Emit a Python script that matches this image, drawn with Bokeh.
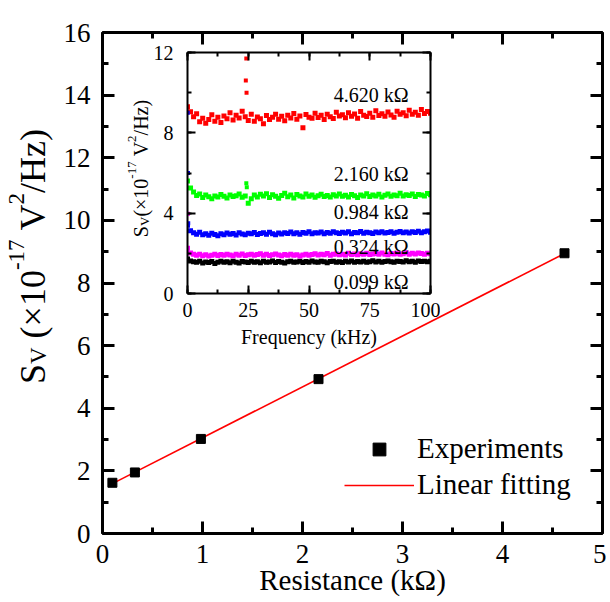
import numpy as np
from bokeh.plotting import figure
from bokeh.models import (LinearAxis, SingleIntervalTicker, Label, Legend, LegendItem, Range1d,
                          CustomLabelingPolicy)
from bokeh.embed import file_html
from bokeh.resources import INLINE

FONT = "Liberation Serif"

# ---------------- main chart data ----------------
resistance = [0.099, 0.324, 0.984, 2.160, 4.620]      # kOhm
sv_mean = [1.62, 1.95, 3.02, 4.93, 8.95]              # x1e-17 V^2/Hz

# ---------------- inset data (noise spectra) ----------------
red_sv = [
    9.30, 9.05, 8.80, 8.95, 8.55, 8.72, 8.48, 8.66, 8.90, 8.58,
    8.78, 8.52, 8.84, 8.70, 9.00, 8.64, 8.88, 8.74, 9.08, 8.80,
    8.62, 8.93, 8.58, 8.79, 8.70, 8.45, 8.86, 8.66, 8.77, 8.92,
    8.68, 8.82, 8.60, 8.88, 8.74, 8.96, 8.68, 8.84, 8.25, 8.91,
    8.78, 8.72, 8.98, 8.76, 8.87, 8.66, 8.93, 8.80, 8.71, 9.03,
    8.84, 8.90, 8.75, 9.00, 8.82, 8.94, 8.73, 9.06, 8.88, 8.81,
    8.98, 8.77, 9.10, 8.86, 8.95, 8.83, 9.04, 8.89, 8.78, 9.08,
    8.93, 9.00, 8.85, 9.13, 8.92, 9.03, 8.88, 9.16, 8.96, 9.06,
    8.98]
green_sv = [
    5.60, 5.25, 5.05, 4.88, 4.95, 4.78, 4.90, 4.82, 4.72, 4.86,
    4.80, 4.93, 4.84, 4.76, 4.91, 4.83, 4.87, 4.95, 4.79, 4.85,
    4.50, 4.72, 4.90, 4.80, 4.94, 4.86, 4.97, 4.78, 4.92, 4.84,
    4.74, 4.88, 4.99, 4.82, 4.90, 4.76, 4.93, 4.85, 4.80, 4.96,
    4.84, 4.90, 4.79, 4.87, 4.94, 4.83, 4.88, 4.81, 4.92, 4.86,
    4.95, 4.84, 4.89, 4.80, 4.93, 4.87, 4.78, 4.91, 4.85, 4.97,
    4.83, 4.90, 4.86, 4.94, 4.81, 4.89, 4.95, 4.84, 4.91, 4.87,
    4.99, 4.85, 4.92, 4.88, 4.96, 4.83, 4.93, 4.90, 4.86, 4.98,
    4.92]
blue_sv = [
    3.40, 3.12, 3.02, 2.95, 3.05, 2.92, 2.98, 2.90, 3.00, 2.94,
    2.88, 2.97, 2.92, 3.01, 2.95, 2.99, 2.91, 3.03, 2.96, 2.93,
    3.00, 2.97, 3.04, 2.94, 2.99, 3.02, 2.95, 3.05, 2.98, 2.93,
    3.01, 2.96, 3.03, 2.99, 3.06, 2.97, 3.02, 2.95, 3.04, 3.00,
    3.07, 2.98, 3.03, 3.01, 3.06, 2.97, 3.04, 3.00, 3.08, 3.02,
    2.99, 3.05, 3.01, 3.07, 2.98, 3.04, 3.02, 3.09, 3.00, 3.05,
    3.03, 2.99, 3.06, 3.02, 3.08, 3.01, 3.04, 3.07, 3.00, 3.05,
    3.09, 3.03, 3.06, 3.01, 3.08, 3.04, 3.10, 3.02, 3.07, 3.11,
    3.05]
magenta_sv = [
    2.25, 2.02, 1.95, 1.90, 1.96, 1.88, 1.93, 1.87, 1.91, 1.95,
    1.89, 1.94, 1.90, 1.96, 1.92, 1.88, 1.95, 1.91, 1.97, 1.89,
    1.93, 1.96, 1.90, 1.94, 1.98, 1.91, 1.95, 1.89, 1.93, 1.97,
    1.92, 1.88, 1.94, 1.91, 1.96, 1.90, 1.93, 1.87, 1.92, 1.95,
    1.90, 1.94, 1.98, 1.92, 1.96, 1.93, 1.99, 1.91, 1.95, 1.97,
    1.93, 1.96, 1.92, 2.00, 1.94, 1.97, 1.93, 1.98, 1.95, 2.01,
    1.94, 1.97, 1.99, 1.95, 2.02, 1.96, 1.93, 1.99, 1.97, 2.01,
    1.95, 1.98, 2.03, 1.96, 2.00, 1.97, 2.02, 1.99, 1.96, 2.01,
    1.98]
black_sv = [
    1.72, 1.62, 1.58, 1.55, 1.60, 1.52, 1.57, 1.54, 1.59, 1.50,
    1.56, 1.61, 1.55, 1.58, 1.53, 1.60, 1.56, 1.52, 1.59, 1.57,
    1.54, 1.61, 1.56, 1.58, 1.53, 1.60, 1.55, 1.57, 1.62, 1.54,
    1.59, 1.56, 1.52, 1.58, 1.61, 1.55, 1.57, 1.60, 1.54, 1.59,
    1.56, 1.62, 1.57, 1.55, 1.60, 1.58, 1.53, 1.59, 1.61, 1.56,
    1.58, 1.54, 1.60, 1.57, 1.62, 1.55, 1.59, 1.57, 1.61, 1.56,
    1.58, 1.63, 1.57, 1.60, 1.55, 1.59, 1.62, 1.58, 1.56, 1.61,
    1.59, 1.57, 1.63, 1.58, 1.60, 1.56, 1.62, 1.59, 1.61, 1.58,
    1.60]

# isolated spikes (frequency kHz, value)
red_spike_f = [24.2, 24.0, 24.3]
red_spike_v = [11.7, 10.6, 10.0]
green_spike_f = [24.2, 24.4]
green_spike_v = [5.49, 5.29]
blue_spike_f = [0.2, 0.3, 0.1]
blue_spike_v = [6.0, 3.5, 9.0]
magenta_spike_f = [0.2]
magenta_spike_v = [3.97]

inset_labels = ["4.620 kΩ", "2.160 kΩ", "0.984 kΩ", "0.324 kΩ", "0.099 kΩ"]

# ---------------- helpers ----------------
EM = {' ': .25, '(': .333, ')': .333, '×': .564, '-': .333, '/': .278,
      'S': .556, 'V': .722, 'H': .722, 'z': .444}


def text_w(s, size):
    return sum(EM.get(c, 0.5) for c in s) * size


def vertical_label(fig, pieces, x_base, y_center):
    """pieces: (text, font px, baseline shift px (+ = lower), gap px after)"""
    total = sum(text_w(t, sz) + g for t, sz, _, g in pieces)
    y = y_center - total / 2.0
    for t, sz, shift, g in pieces:
        fig.add_layout(Label(x=x_base + shift, y=y, text=t, angle=90, angle_units="deg",
                             text_font=FONT, text_font_size=f"{sz}px", text_color="black",
                             text_align="left", text_baseline="alphabetic"))
        y += text_w(t, sz) + g


HIDE_CODE = """
const out = indices
for (let i = 0; i < out.size; i++) {
  if (typeof out.unset === "function") out.unset(i); else out.set(i, false);
}
return out
"""


def make_axis(interval, major_in, minor_in, lw, tick_size=None, standoff=0,
              label=None, label_size=None, label_standoff=0):
    ax = LinearAxis(ticker=SingleIntervalTicker(interval=interval, num_minor_ticks=2))
    ax.axis_line_color = "black"
    ax.axis_line_width = lw
    ax.major_tick_in = major_in
    ax.major_tick_out = 0
    ax.minor_tick_in = minor_in
    ax.minor_tick_out = 0
    ax.major_tick_line_color = "black"
    ax.minor_tick_line_color = "black"
    ax.major_tick_line_width = lw
    ax.minor_tick_line_width = lw
    if tick_size:
        ax.major_label_text_font = FONT
        ax.major_label_text_font_size = tick_size
        ax.major_label_text_color = "black"
        ax.major_label_standoff = standoff
    else:
        ax.major_label_text_font_size = "0px"
        ax.major_label_standoff = 0
        ax.major_label_policy = CustomLabelingPolicy(code=HIDE_CODE)
    if label:
        ax.axis_label = label
        ax.axis_label_text_font = FONT
        ax.axis_label_text_font_size = label_size
        ax.axis_label_text_font_style = "normal"
        ax.axis_label_text_color = "black"
        ax.axis_label_standoff = label_standoff
    return ax


# ---------------- main figure ----------------
p = figure(width=606, height=602, x_range=Range1d(0, 5), y_range=Range1d(0, 16),
           output_backend="svg", toolbar_location=None,
           x_axis_location=None, y_axis_location=None,
           min_border_left=102, min_border_right=4, min_border_top=32, min_border_bottom=69)
p.outline_line_color = None
p.xgrid.visible = False
p.ygrid.visible = False

p.add_layout(make_axis(1, 12, 6, 3, "27px", 11, "Resistance (kΩ)", "29px", -2), "below")
p.add_layout(make_axis(2, 12, 6, 3, "27px", 12), "left")
p.add_layout(make_axis(1, 12, 6, 3), "above")
p.add_layout(make_axis(2, 12, 6, 3), "right")

slope, intercept = np.polyfit(resistance, sv_mean, 1)
fit_x = [resistance[0], resistance[-1]]
fit_y = [slope * x + intercept for x in fit_x]

fit_r = p.line(fit_x, fit_y, line_color="red", line_width=1.6)
exp_r = p.scatter(resistance, sv_mean, marker="square", size=9, color="black")

legend = Legend(items=[LegendItem(label="Experiments", renderers=[exp_r]),
                       LegendItem(label="Linear fitting", renderers=[fit_r])],
                location=(242, 32), border_line_color=None, background_fill_alpha=0,
                label_text_font=FONT, label_text_font_size="29px", label_text_color="black",
                glyph_width=70, glyph_height=32, label_height=32, label_standoff=3,
                padding=0, margin=0, spacing=3)
p.add_layout(legend)

# ---------------- inset figure ----------------
ins = figure(width=313, height=320, x_range=Range1d(0, 100), y_range=Range1d(0, 12),
             output_backend="svg", toolbar_location=None,
             x_axis_location=None, y_axis_location=None,
             min_border_left=60, min_border_right=10, min_border_top=10, min_border_bottom=69,
             background_fill_color=None, border_fill_color=None)
ins.outline_line_color = None
ins.xgrid.visible = False
ins.ygrid.visible = False
ins.styles = {"position": "absolute", "left": "127px", "top": "42px"}

ins.add_layout(make_axis(25, 8, 4, 2, "20px", 9, "Frequency (kHz)", "20px", 6), "below")
ins.add_layout(make_axis(4, 8, 4, 2, "20px", 14), "left")
ins.add_layout(make_axis(25, 8, 4, 2), "above")
ins.add_layout(make_axis(4, 8, 4, 2), "right")

series = [(black_sv, "black"), (magenta_sv, "#ff00ff"), (blue_sv, "#0000ff"),
          (green_sv, "#00ff00"), (red_sv, "#ff0000")]
for vals, col in series:
    f = np.linspace(0, 100, len(vals))
    ins.scatter(f, vals, marker="square", size=5, color=col, line_width=0)
for fs, vs, col in [(red_spike_f, red_spike_v, "#ff0000"), (green_spike_f, green_spike_v, "#00ff00"),
                    (blue_spike_f, blue_spike_v, "#0000ff"), (magenta_spike_f, magenta_spike_v, "#ff00ff")]:
    ins.scatter(fs, vs, marker="square", size=4, color=col, line_width=0)

label_y = [9.9, 5.96, 4.05, 2.31, 0.56]
for txt, yy in zip(inset_labels, label_y):
    ins.add_layout(Label(x=60.2, y=yy, text=txt, text_font=FONT, text_font_size="20px",
                         text_color="black", text_align="left", text_baseline="middle"))

# ---------------- overlay for the composed (sub/superscript) axis titles ----------------
ann = figure(width=606, height=602, x_range=Range1d(0, 606), y_range=Range1d(0, 602),
             output_backend="svg", toolbar_location=None,
             x_axis_location=None, y_axis_location=None,
             min_border_left=0, min_border_right=0, min_border_top=0, min_border_bottom=0,
             background_fill_color=None, border_fill_color=None)
ann.outline_line_color = None
ann.xgrid.visible = False
ann.ygrid.visible = False
ann.styles = {"position": "absolute", "left": "0px", "top": "0px"}

F, f = 36, 23
vertical_label(ann, [("S", F, 0, 0), ("V", f, 6, 0.25 * F), ("(×10", F, 0, 0),
                     ("-17", f, -16, 0.25 * F), ("V", F, 0, 0), ("2", f, -16, 0),
                     ("/Hz)", F, 0, 0)],
               x_base=32, y_center=602 - 256)
Fi, fi = 20, 13
vertical_label(ann, [("S", Fi, 0, 0), ("V", fi, 4, 0), ("(×10", Fi, 0, 0),
                     ("-17", fi, -9, 0.25 * Fi), ("V", Fi, 0, 0), ("2", fi, -9, 0),
                     ("/Hz)", Fi, 0, 0)],
               x_base=140, y_center=602 - 168)

open("out.html", "w").write(file_html([p, ins, ann], INLINE))
